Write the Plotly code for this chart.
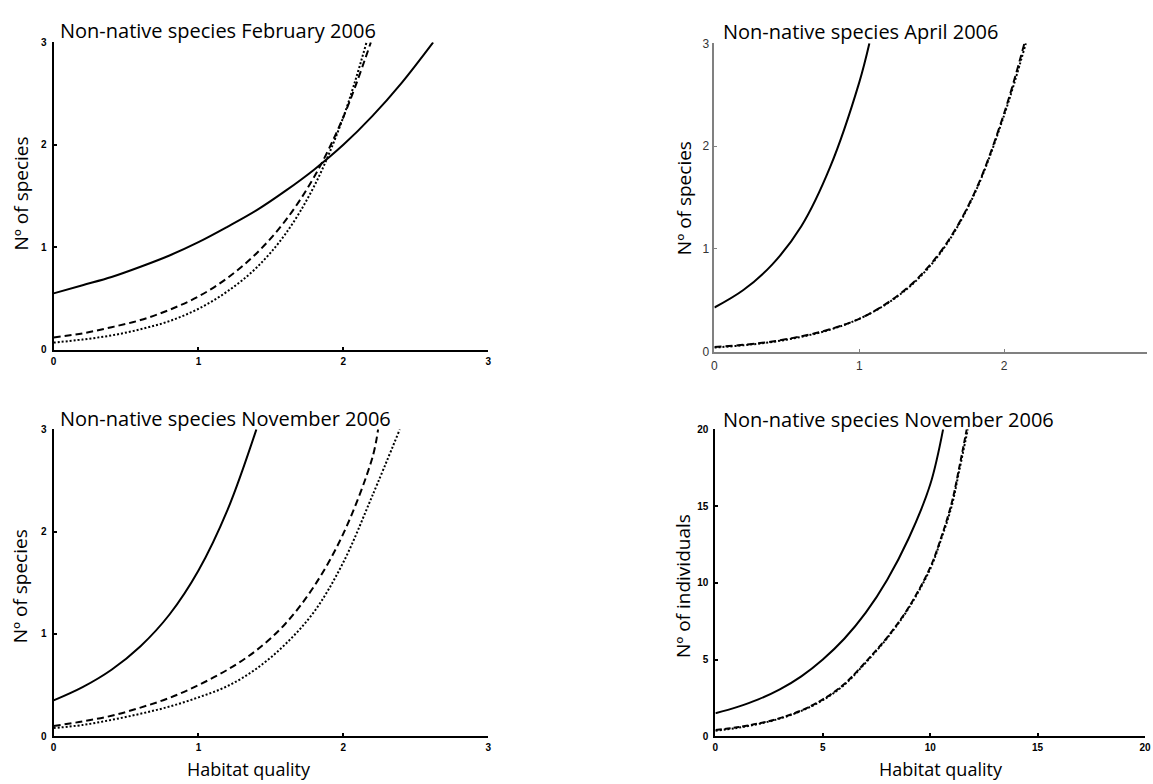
import plotly.graph_objects as go

W, H = 1153, 784

# ---------------- data ----------------
# Panel A: Non-native species February 2006 (Nº of species)
feb_solid_x = [0, 0.2, 0.4, 0.6, 0.8, 1.0, 1.2, 1.4, 1.6, 1.8, 2.0, 2.2, 2.4, 2.62]
feb_solid_y = [0.55, 0.63, 0.71, 0.81, 0.92, 1.05, 1.20, 1.36, 1.55, 1.76, 2.00, 2.28, 2.60, 3.00]
feb_dash_x = [0, 0.2, 0.4, 0.6, 0.8, 1.0, 1.2, 1.4, 1.6, 1.8, 2.0, 2.19]
feb_dash_y = [0.12, 0.16, 0.22, 0.29, 0.39, 0.52, 0.70, 0.94, 1.26, 1.69, 2.27, 3.00]
feb_dot_x = [0, 0.2, 0.4, 0.6, 0.8, 1.0, 1.2, 1.4, 1.6, 1.8, 2.0, 2.16]
feb_dot_y = [0.07, 0.10, 0.14, 0.20, 0.28, 0.40, 0.57, 0.80, 1.13, 1.60, 2.27, 3.00]

# Panel B: Non-native species April 2006 (Nº of species)
apr_solid_x = [0, 0.2, 0.4, 0.6, 0.8, 1.0, 1.07]
apr_solid_y = [0.43, 0.60, 0.85, 1.22, 1.80, 2.62, 3.00]
apr_dash_x = [0, 0.2, 0.4, 0.6, 0.8, 1.0, 1.2, 1.4, 1.6, 1.8, 2.0, 2.14]
apr_dash_y = [0.045, 0.067, 0.10, 0.15, 0.22, 0.32, 0.48, 0.71, 1.05, 1.56, 2.32, 3.00]
apr_dot_x = [0, 0.2, 0.4, 0.6, 0.8, 1.0, 1.2, 1.4, 1.6, 1.8, 2.0, 2.15]
apr_dot_y = [0.04, 0.063, 0.095, 0.145, 0.215, 0.32, 0.475, 0.70, 1.04, 1.55, 2.30, 3.00]

# Panel C: Non-native species November 2006 (Nº of species)
nov_solid_x = [0, 0.2, 0.4, 0.6, 0.8, 1.0, 1.2, 1.4]
nov_solid_y = [0.35, 0.48, 0.65, 0.88, 1.19, 1.62, 2.21, 3.00]
nov_dash_x = [0, 0.2, 0.4, 0.6, 0.8, 1.0, 1.2, 1.4, 1.6, 1.8, 2.0, 2.2, 2.24]
nov_dash_y = [0.10, 0.145, 0.20, 0.28, 0.375, 0.50, 0.65, 0.84, 1.10, 1.47, 1.98, 2.72, 3.00]
nov_dot_x = [0, 0.2, 0.4, 0.6, 0.8, 1.0, 1.2, 1.4, 1.6, 1.8, 2.0, 2.2, 2.39]
nov_dot_y = [0.08, 0.11, 0.16, 0.22, 0.29, 0.38, 0.49, 0.66, 0.90, 1.22, 1.70, 2.35, 3.00]

# Panel D: Non-native species November 2006 (Nº of individuals)
ind_solid_x = [0, 1, 2, 3, 4, 5, 6, 7, 8, 9, 10, 10.6]
ind_solid_y = [1.5, 1.9, 2.4, 3.05, 3.9, 5.0, 6.35, 8.05, 10.2, 12.9, 16.4, 20.0]
ind_dash_x = [0, 1, 2, 3, 4, 5, 6, 7, 8, 9, 10, 10.5, 11, 11.35, 11.7]
ind_dash_y = [0.4, 0.58, 0.83, 1.18, 1.68, 2.4, 3.4, 4.85, 6.45, 8.4, 11.0, 12.9, 15.2, 17.5, 20.0]
ind_dot_x = [0, 1, 2, 3, 4, 5, 6, 7, 8, 9, 10, 10.5, 11, 11.35, 11.75]
ind_dot_y = [0.35, 0.54, 0.8, 1.15, 1.65, 2.35, 3.35, 4.8, 6.4, 8.35, 10.9, 12.8, 15.0, 17.3, 20.0]

titles = ["Non-native species February 2006", "Non-native species April 2006",
          "Non-native species November 2006", "Non-native species November 2006"]
ytitles = ["Nº of species", "Nº of species", "Nº of species", "Nº of individuals"]
xtitle = "Habitat quality"

ticks_species = [0, 1, 2, 3]
ticks_species_b = [0, 1, 2]
ticks_ind = [0, 5, 10, 15, 20]

# ---------------- figure ----------------
fig = go.Figure()

DASH = "7px,4px"
DOT = "2px,2px"


def add(x, y, ax, dash):
    fig.add_trace(go.Scatter(x=x, y=y, mode="lines", xaxis="x" + ax, yaxis="y" + ax,
                             line=dict(color="black", width=2, dash=dash, shape="spline"),
                             showlegend=False, hoverinfo="skip"))


add(feb_solid_x, feb_solid_y, "", "solid")
add(feb_dash_x, feb_dash_y, "", DASH)
add(feb_dot_x, feb_dot_y, "", DOT)
add(apr_solid_x, apr_solid_y, "2", "solid")
add(apr_dash_x, apr_dash_y, "2", DASH)
add(apr_dot_x, apr_dot_y, "2", DOT)
add(nov_solid_x, nov_solid_y, "3", "solid")
add(nov_dash_x, nov_dash_y, "3", DASH)
add(nov_dot_x, nov_dot_y, "3", DOT)
add(ind_solid_x, ind_solid_y, "4", "solid")
add(ind_dash_x, ind_dash_y, "4", "6px,3px")
add(ind_dot_x, ind_dot_y, "4", DOT)


def px_x(p):
    return p / W


def px_y(p):
    return 1 - p / H


bold_font = dict(family="Liberation Sans, Arial", size=10, color="black", weight="bold")
thin_font = dict(family="Liberation Sans, Arial", size=12, color="#333333")


def axis(domain, rng, tickvals, anchor, bold=True, standoff=3):
    col = "black" if bold else "#808080"
    return dict(domain=domain, range=rng, tickvals=tickvals, anchor=anchor,
                showline=True, linecolor=col, linewidth=2 if bold else 1.5,
                ticks="inside", ticklen=3, tickwidth=1.5 if bold else 1, tickcolor=col,
                tickfont=bold_font if bold else thin_font, ticklabelstandoff=standoff,
                ticklabeloverflow="allow",
                showgrid=False, zeroline=False, fixedrange=True)


# pixel geometry
L1, R1 = 51, 489
L2 = 717
L4, R4 = 718, 1151
T_top, B_top = 36, 349
T_bot, B_bot = 430, 742.5

x2_max = 3 * (W - L2) / (R1 - L1)

fig.update_layout(
    width=W, height=H, margin=dict(l=0, r=0, t=0, b=0),
    paper_bgcolor="white", plot_bgcolor="white",
    xaxis=axis([px_x(L1), px_x(R1)], [0, 3], ticks_species, "y", standoff=1),
    yaxis=axis([px_y(B_top), px_y(T_top)], [0, 3], ticks_species, "x"),
    xaxis2=axis([px_x(L2), 1], [0, x2_max], ticks_species_b, "y2", bold=False, standoff=2),
    yaxis2=axis([px_y(351), px_y(37)], [0, 3], ticks_species, "x2", bold=False, standoff=1),
    xaxis3=axis([px_x(L1), px_x(R1)], [0, 3], ticks_species, "y3", standoff=1),
    yaxis3=axis([px_y(B_bot), px_y(T_bot)], [0, 3], ticks_species, "x3"),
    xaxis4=axis([px_x(L4), px_x(R4)], [0, 20], ticks_ind, "y4", standoff=1),
    yaxis4=axis([px_y(B_bot), px_y(T_bot)], [0, 20], ticks_ind, "x4"),
)

title_font = dict(family="Open Sans", size=20, color="black")
label_font = dict(family="Open Sans", size=19, color="black")
xlabel_font = dict(family="Open Sans", size=18, color="black")
ann = []
for t, (x, y) in zip(titles, [(55, 24), (724, 25), (55, 419), (724, 420)]):
    ann.append(dict(text=t, x=px_x(x), y=px_y(y), xref="paper", yref="paper",
                    xanchor="left", yanchor="middle", showarrow=False, font=title_font))
for t, (x, y) in zip(ytitles, [(18, 190), (686, 195), (18, 590), (686, 590)]):
    ann.append(dict(text=t, x=px_x(x), y=px_y(y), xref="paper", yref="paper",
                    xanchor="center", yanchor="middle", textangle=-90, showarrow=False,
                    font=label_font))
for x in [248, 945]:
    ann.append(dict(text=xtitle, x=px_x(x), y=px_y(776), xref="paper", yref="paper",
                    xanchor="center", yanchor="middle", showarrow=False, font=xlabel_font))
fig.update_layout(annotations=ann)

fig.write_html("out.html")
